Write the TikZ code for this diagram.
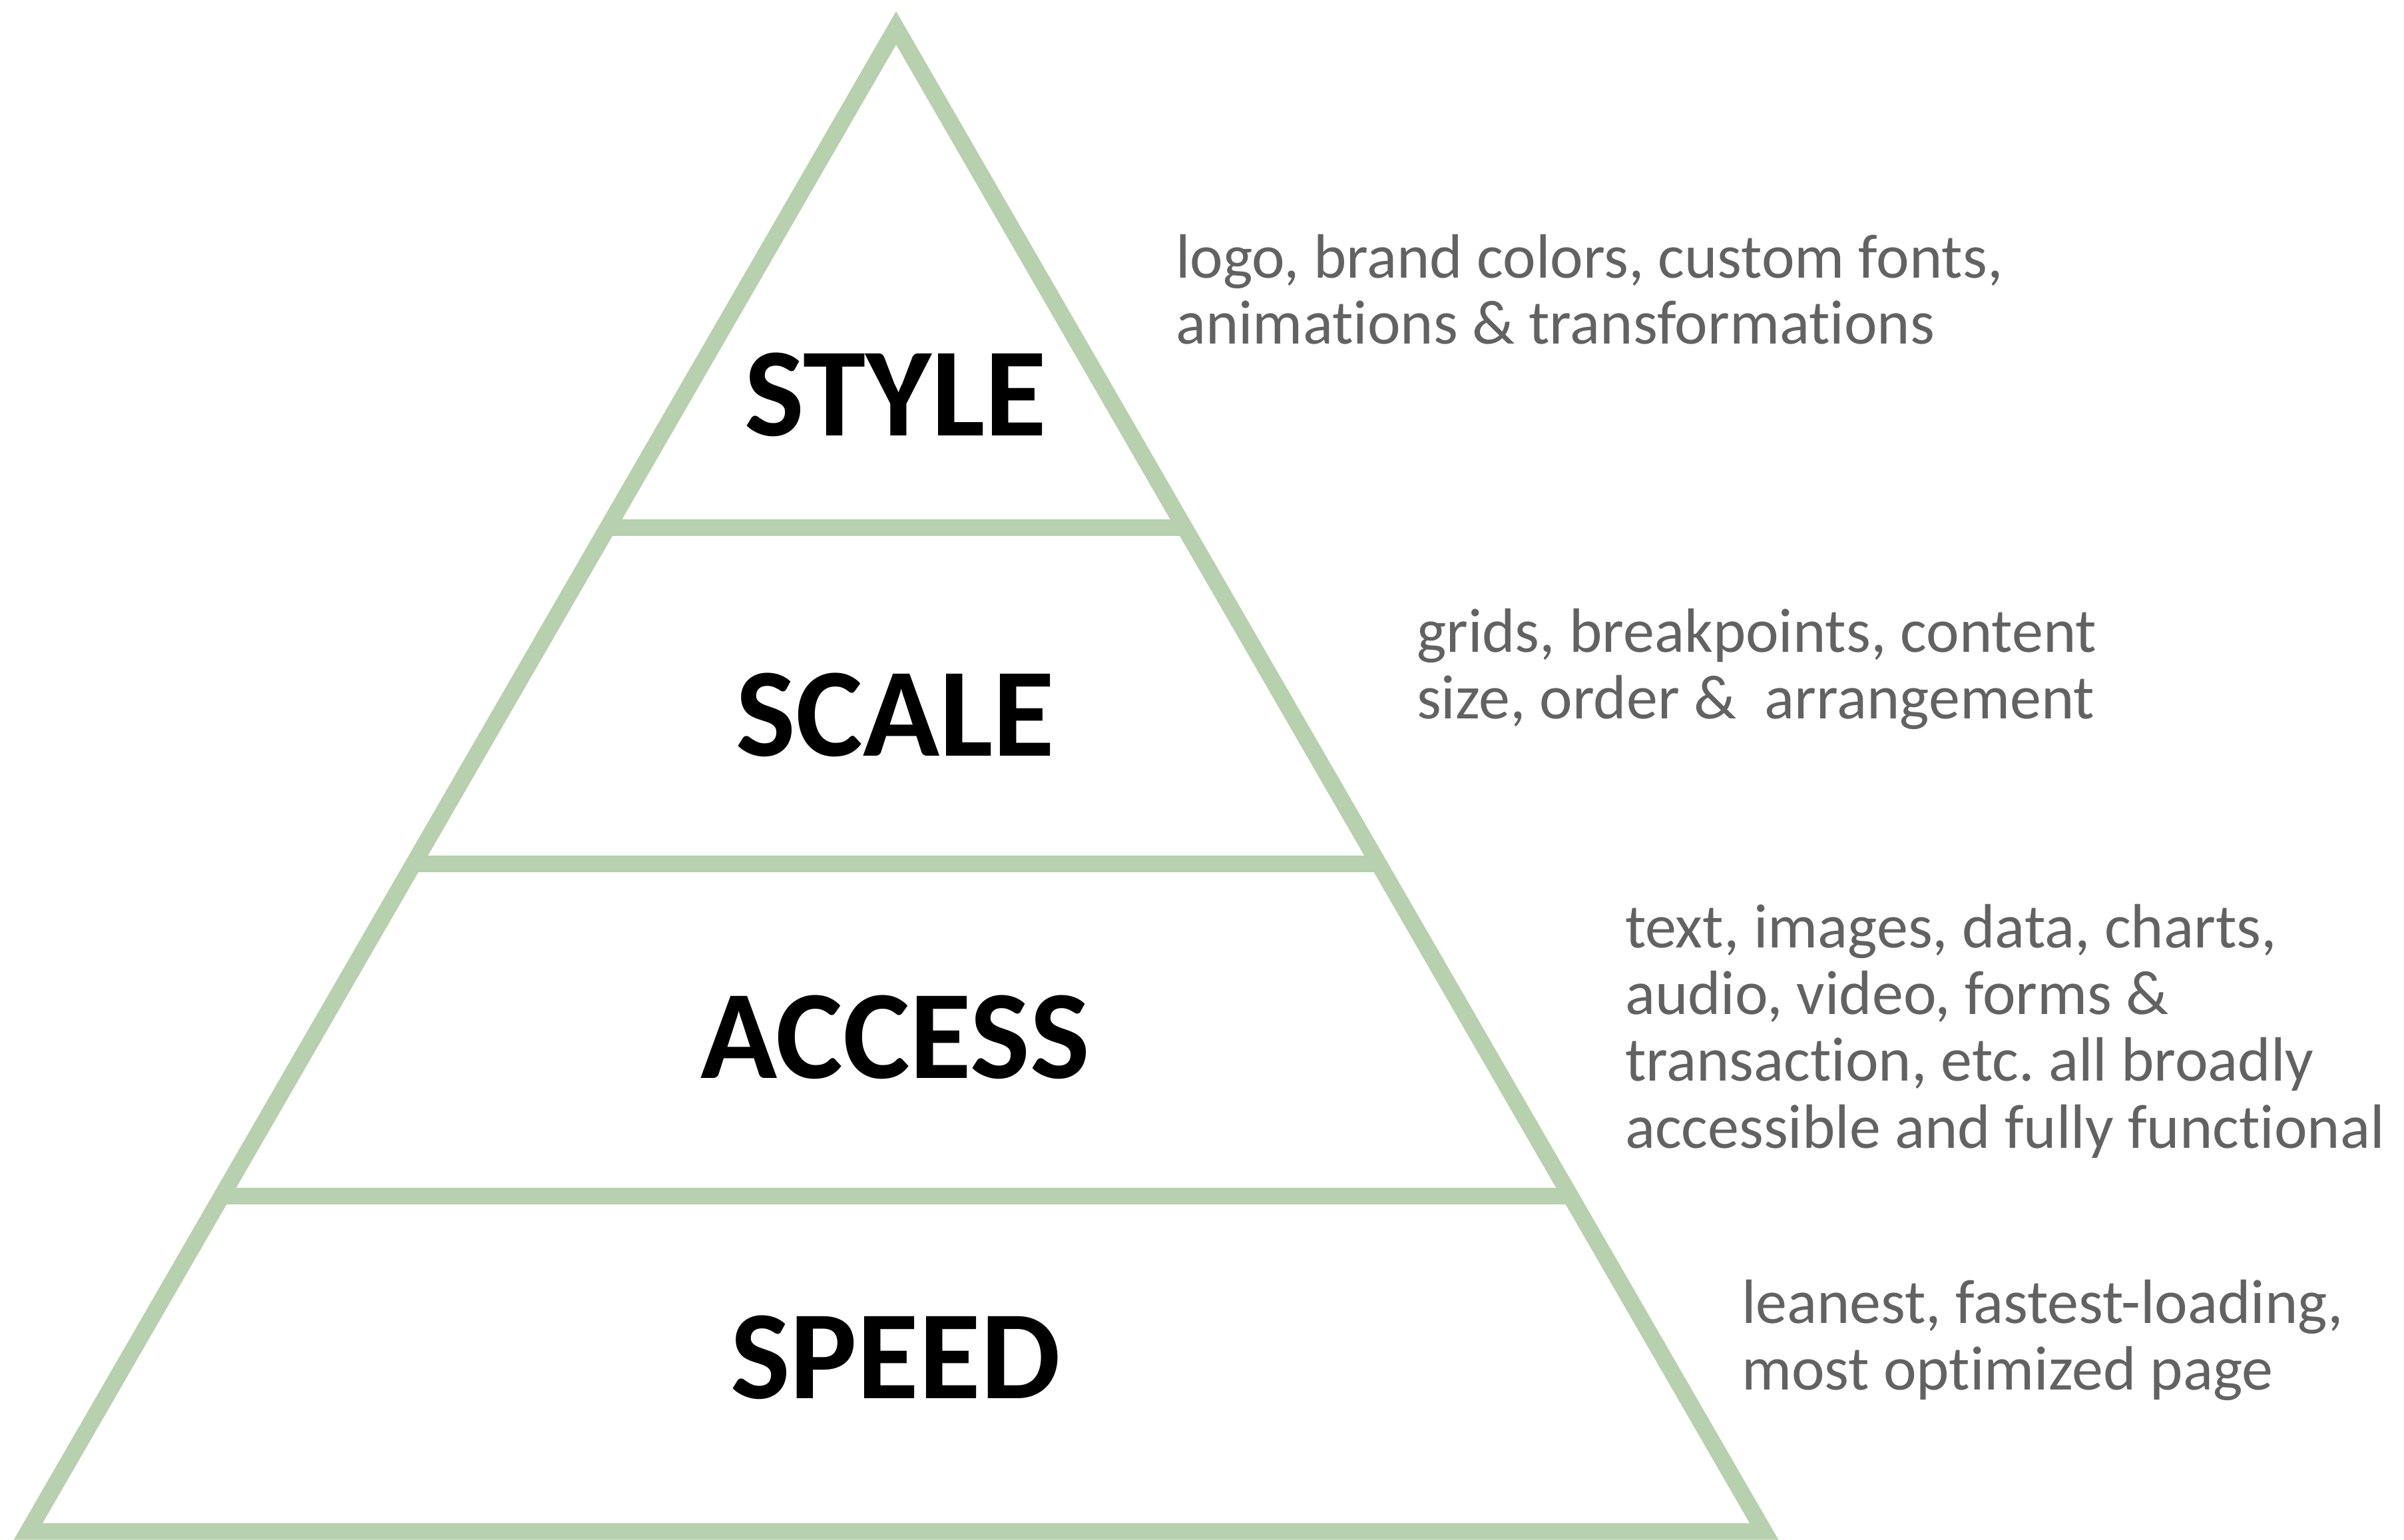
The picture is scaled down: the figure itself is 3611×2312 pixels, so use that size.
\documentclass[tikz,border=0pt]{standalone}
\usepackage{fontspec}
\setmainfont{Carlito}[RawFeature={-liga}]
\usetikzlibrary{calc}
\definecolor{pyrgreen}{RGB}{183,208,174}
\definecolor{descgray}{RGB}{98,98,98}
\frenchspacing
\begin{document}
\begin{tikzpicture}[x=0.1pt,y=-0.1pt,
  pyr/.style={draw=pyrgreen,line width=2.5pt,line join=miter},
  tier/.style={font=\fontsize{19pt}{21pt}\selectfont\bfseries,text=black,anchor=base,inner sep=0pt},
  desc/.style={font=\fontsize{9.4pt}{11pt}\selectfont,text=descgray,anchor=base west,inner sep=0pt}]
\useasboundingbox (0,0) rectangle (3611,2312);
\fill[white] (0,0) rectangle (3611,2312);
\coordinate (apex) at (1346,42);
\coordinate (bl) at (42.4,2300);
\coordinate (br) at (2649.6,2300);
\draw[pyr] (apex) -- (br) -- (bl) -- cycle;
\foreach \t/\n in {0.3322/a,0.5558/b,0.7772/c}{
  \coordinate (l\n) at ($(apex)!\t!(bl)$);
  \coordinate (r\n) at ($(apex)!\t!(br)$);
  \draw[pyr,line cap=butt] (l\n) -- (r\n);
}
\node[tier] (style) at (1345,654) {STYLE};
\node[tier] (scale) at (1345,1135) {SCALE};
\node[tier] (access) at (1345,1619) {ACCESS};
\node[tier] (speed) at (1345,2100) {SPEED};
\node[desc] (d1a) at (1764,417) {logo, brand colors, custom fonts,};
\node[desc] (d1b) at (1764,516) {animations \& transformations};
\node[desc] (d2a) at (2126,979) {grids, breakpoints, content};
\node[desc] (d2b) at (2126,1079) {size, order \&\ \ arrangement};
\node[desc] (d3a) at (2439,1423) {text, images, data, charts,};
\node[desc] (d3b) at (2439,1523) {audio, video, forms \&};
\node[desc] (d3c) at (2439,1623) {transaction, etc. all broadly};
\node[desc] (d3d) at (2439,1724) {accessible and fully functional};
\node[desc] (d4a) at (2614,1987) {leanest, fastest-loading,};
\node[desc] (d4b) at (2614,2087) {most optimized page};
\end{tikzpicture}
\end{document}
